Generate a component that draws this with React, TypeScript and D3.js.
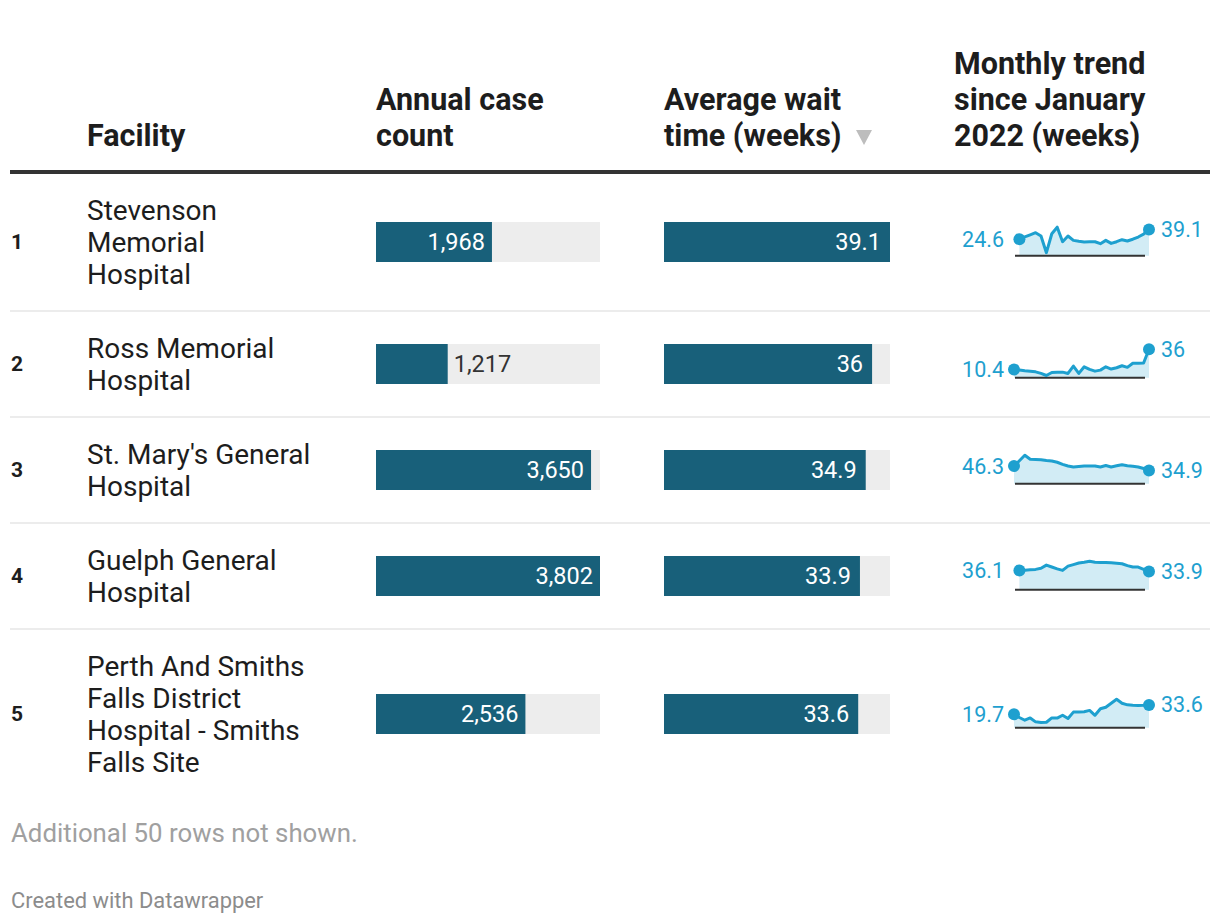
import React from "react";
import * as d3 from "d3";

// ---------- data ----------
const ranks = [1, 2, 3, 4, 5];
const facilityLines = [
  ["Stevenson", "Memorial", "Hospital"],
  ["Ross Memorial", "Hospital"],
  ["St. Mary's General", "Hospital"],
  ["Guelph General", "Hospital"],
  ["Perth And Smiths", "Falls District", "Hospital - Smiths", "Falls Site"],
];
const caseCounts = [1968, 1217, 3650, 3802, 2536];
const waitTimes = [39.1, 36, 34.9, 33.9, 33.6];

const trendStevenson = [null, 24.6, 28, 31, 34.2, 29.3, 4.5, 32.7, 42.4, 20.8, 29.3, 22.8, 21.5, 20.4, 20.6, 20.8, 17.9, 22.8, 18.3, 20.8, 23.8, 21.9, 24.5, 27.8, 32, 39.1];
const trendRoss = [10.4, 9.8, 8.9, 8.2, 7.4, 5.4, 2.8, 6.6, 6.9, 7.0, 5.4, 14.7, 5.4, 13.8, 10.5, 8.3, 9.6, 13.8, 10.9, 12.6, 15.1, 13.1, 18.2, 18.2, 18.5, 36];
const trendStMarys = [46.3, 60.5, 75, 64.5, 64, 63.3, 61, 59.5, 56.5, 51, 46.7, 44, 45.5, 46.7, 46.5, 46.7, 44, 47.7, 44, 47, 50, 47.5, 46, 44, 40, 34.9];
const trendGuelph = [null, 36.1, 36.6, 37.4, 38, 40, 46, 42.4, 39, 36.1, 44, 47, 50, 51.5, 53.3, 51.5, 51, 51, 50.5, 49.5, 48.6, 45, 42.4, 42.4, 38, 33.9];
const trendPerth = [19.7, 15, 11, 14.4, 8.6, 7.7, 8, 14.4, 14.2, 18.3, 13.5, 23, 23, 23.5, 25.5, 18.3, 27.9, 30.2, 36, 42, 36, 33.7, 33, 32.7, 33, 33.6];
const trends = [trendStevenson, trendRoss, trendStMarys, trendGuelph, trendPerth];

const headerFacility = ["Facility"];
const headerCases = ["Annual case", "count"];
const headerWait = ["Average wait", "time (weeks)"];
const headerTrend = ["Monthly trend", "since January", "2022 (weeks)"];
const footerNote = "Additional 50 rows not shown.";
const credit = "Created with Datawrapper";

// ---------- styles ----------
const FONT = "Roboto, 'Noto Sans', sans-serif";
const BAR = "#18607a";
const BAR_BG = "#ededed";
const SPARK = "#1ea0cf";
const SPARK_FILL = "#d2ecf5";
const TEXT = "#1d1d1d";

export default function App() {
  const W = 1220, H = 924;
  const colRank = 11, colFac = 87, colCases = 376, colWait = 664, colTrend = 954;
  const lineH = 32;
  const rowPad = 42;
  const tableTop = 173;

  const rows: { top: number; h: number; c: number }[] = [];
  let y = tableTop;
  facilityLines.forEach((lines) => {
    const h = lines.length * lineH + rowPad;
    rows.push({ top: y, h, c: y + h / 2 });
    y += h;
  });

  const xCases = d3.scaleLinear().domain([0, d3.max(caseCounts)!]).range([0, 224]);
  const xWait = d3.scaleLinear().domain([0, d3.max(waitTimes)!]).range([0, 226]);
  const barH = 40;

  const nPts = trends[0].length;
  const xSpark = d3.scaleLinear().domain([0, nPts - 1]).range([1014, 1149]);

  const headerBottom = 135;
  const headerLH = 36;
  const renderHeader = (lines: string[], x: number) =>
    lines.map((t, i) => (
      <text
        key={i}
        x={x}
        y={headerBottom - (lines.length - 1 - i) * headerLH}
        dy="0.35em"
        fontFamily={FONT}
        fontWeight={700}
        fontSize={30.5}
        fill={TEXT}
      >
        {t}
      </text>
    ));

  return (
    <svg width={W} height={H} style={{ position: "absolute", left: 0, top: 0, display: "block", background: "#fff" }}>
      {renderHeader(headerFacility, colFac)}
      {renderHeader(headerCases, colCases)}
      {renderHeader(headerWait, colWait)}
      <path d="M856,130L872,130L864,145Z" fill="#bdbdbd" />
      {renderHeader(headerTrend, colTrend)}
      <line x1={10} x2={1210} y1={172} y2={172} stroke="#333" strokeWidth={4} />

      {rows.map((r, i) => {
        const lines = facilityLines[i];
        const cw = xCases(caseCounts[i]);
        const ww = xWait(waitTimes[i]);
        const caseLabel = d3.format(",")(caseCounts[i]);
        const caseInside = cw > 90;
        const trend = trends[i];
        const maxV = d3.max(trend as number[])!;
        const base = r.c + 13.7;
        const ySpark = d3.scaleLinear().domain([0, maxV]).range([base, r.c - 14.8]);
        const pts = trend.map((v, j) => ({ j, v }));
        const defined = (d: { v: number | null }) => d.v != null;
        const area = d3
          .area<{ j: number; v: number | null }>()
          .defined(defined)
          .x((d) => xSpark(d.j))
          .y0(base)
          .y1((d) => ySpark(d.v as number));
        const line = d3
          .line<{ j: number; v: number | null }>()
          .defined(defined)
          .x((d) => xSpark(d.j))
          .y((d) => ySpark(d.v as number));
        const valid = pts.filter(defined);
        const first = valid[0];
        const last = valid[valid.length - 1];
        return (
          <g key={i}>
            {i < rows.length - 1 && (
              <line x1={10} x2={1210} y1={r.top + r.h} y2={r.top + r.h} stroke="#e6e6e6" strokeWidth={1.5} />
            )}
            <text x={colRank} y={r.c} dy="0.35em" fontFamily={FONT} fontWeight={700} fontSize={21} fill={TEXT}>
              {ranks[i]}
            </text>
            {lines.map((t, k) => (
              <text
                key={k}
                x={colFac}
                y={r.c + (k - (lines.length - 1) / 2) * lineH}
                dy="0.35em"
                fontFamily={FONT}
                fontSize={28}
                fill={TEXT}
              >
                {t}
              </text>
            ))}
            <rect x={colCases} y={r.c - barH / 2} width={224} height={barH} fill={BAR_BG} />
            <rect x={colCases} y={r.c - barH / 2} width={cw} height={barH} fill={BAR} />
            <text
              x={caseInside ? colCases + cw - 7 : colCases + cw + 6}
              y={r.c}
              dy="0.35em"
              textAnchor={caseInside ? "end" : "start"}
              fontFamily={FONT}
              fontSize={23.5}
              fill={caseInside ? "#fff" : "#333"}
            >
              {caseLabel}
            </text>
            <rect x={colWait} y={r.c - barH / 2} width={226} height={barH} fill={BAR_BG} />
            <rect x={colWait} y={r.c - barH / 2} width={ww} height={barH} fill={BAR} />
            <text
              x={colWait + ww - 9}
              y={r.c}
              dy="0.35em"
              textAnchor="end"
              fontFamily={FONT}
              fontSize={23.5}
              fill="#fff"
            >
              {d3.format("")(waitTimes[i])}
            </text>
            <path d={area(pts) || ""} fill={SPARK_FILL} />
            <line x1={1015} x2={1145} y1={base} y2={base} stroke="#333" strokeWidth={2} />
            <path d={line(pts) || ""} fill="none" stroke={SPARK} strokeWidth={3} strokeLinejoin="round" />
            <circle cx={xSpark(first.j)} cy={ySpark(first.v as number)} r={6} fill={SPARK} />
            <circle cx={xSpark(last.j)} cy={ySpark(last.v as number)} r={6} fill={SPARK} />
            <text
              x={1004}
              y={ySpark(first.v as number)}
              dy="0.35em"
              textAnchor="end"
              fontFamily={FONT}
              fontSize={21.5}
              fill={SPARK}
            >
              {first.v}
            </text>
            <text
              x={1161}
              y={ySpark(last.v as number)}
              dy="0.35em"
              textAnchor="start"
              fontFamily={FONT}
              fontSize={21.5}
              fill={SPARK}
            >
              {last.v}
            </text>
          </g>
        );
      })}

      <text x={11} y={833} dy="0.35em" fontFamily={FONT} fontSize={25.8} fill="#a0a0a0">
        {footerNote}
      </text>
      <text x={11} y={900} dy="0.35em" fontFamily={FONT} fontSize={21.9} fill="#8c8c8c">
        {credit}
      </text>
    </svg>
  );
}
